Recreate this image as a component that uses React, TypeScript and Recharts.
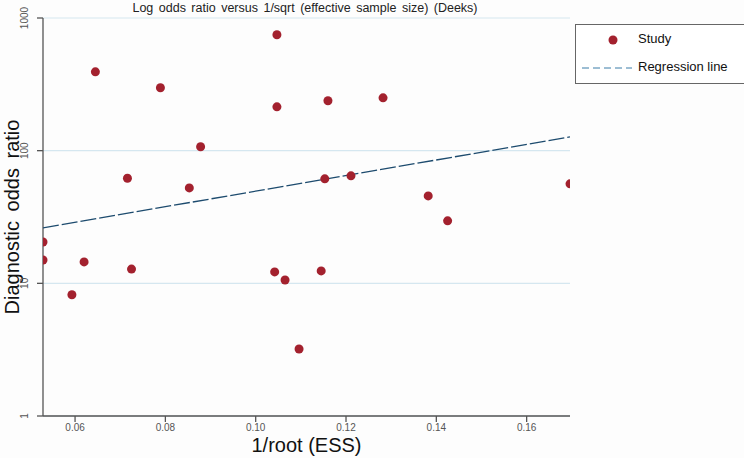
import { CartesianGrid, Scatter, ScatterChart, XAxis, YAxis, Label } from "recharts"

// 1/sqrt(ESS) per study
const studyX = [
  0.0529, 0.0529, 0.0593, 0.062, 0.0645, 0.0716, 0.0725, 0.0789, 0.0853, 0.0878, 0.1047, 0.1047,
  0.1042, 0.1065, 0.1096, 0.1145, 0.1153, 0.116, 0.1211, 0.1282, 0.1382, 0.1425, 0.1696,
]
// diagnostic odds ratio per study
const studyDor = [
  20.5, 15.0, 8.2, 14.5, 393, 62, 12.8, 298, 52.4, 107, 747, 214,
  12.2, 10.6, 3.2, 12.4, 61.3, 238, 64.6, 250, 45.6, 29.6, 56.2,
]
// fitted regression line end points
const regX = [0.0529, 0.1696]
const regDor = [26.2, 127]

const xTicks = [0.06, 0.08, 0.1, 0.12, 0.14, 0.16]
const yTicks = [1, 10, 100, 1000]

const POINT = "#a3212e"
const LINE = "#1d4b6e"
const AXIS = "#555"
const FONT = "Arial, Liberation Sans, sans-serif"

const studies = studyX.map((x, i) => ({ x, y: studyDor[i] }))
const regression = regX.map((x, i) => ({ x, y: regDor[i] }))

const YTick = ({ x, y, payload }: any) => (
  <text
    x={x - 7}
    y={y}
    transform={`rotate(-90 ${x - 7} ${y})`}
    textAnchor="middle"
    fontSize={10}
    fill={AXIS}
    fontFamily={FONT}
  >
    {payload.value}
  </text>
)

const YTitle = ({ viewBox }: any) => {
  const cy = viewBox.y + viewBox.height / 2
  return (
    <text
      x={19}
      y={cy}
      transform={`rotate(-90 19 ${cy})`}
      textAnchor="middle"
      fontSize={20}
      fill="#111"
      fontFamily={FONT}
      style={{ wordSpacing: 4 }}
    >
      Diagnostic odds ratio
    </text>
  )
}

const LegendBox = () => (
  <div
    style={{
      position: "absolute",
      left: 575,
      top: 24,
      border: "1px solid #666",
      width: 180,
      height: 58,
      background: "#fff",
      fontFamily: FONT,
      fontSize: 13,
      color: "#111",
    }}
  >
    <svg width={60} height={58} style={{ position: "absolute", left: 0, top: 0 }}>
      <circle cx={37} cy={15} r={4.5} fill={POINT} />
      <line x1={6} y1={43} x2={56} y2={43} stroke="#3b7ca8" strokeWidth={1} strokeDasharray="7 4" />
    </svg>
    <div style={{ position: "absolute", left: 62, top: 6 }}>Study</div>
    <div style={{ position: "absolute", left: 62, top: 34 }}>Regression line</div>
  </div>
)

export default function App() {
  return (
    <div style={{ position: "absolute", left: 0, top: 0, width: 744, height: 458, background: "#fdfdfd" }}>
      <div
        style={{
          position: "absolute",
          left: 0,
          width: 610,
          top: 1,
          textAlign: "center",
          fontFamily: FONT,
          fontSize: 12.5,
          color: "#222",
          wordSpacing: 2,
        }}
      >
        Log odds ratio versus 1/sqrt (effective sample size) (Deeks)
      </div>
      <ScatterChart width={744} height={458} margin={{ top: 18, right: 174, left: 0, bottom: 0 }}>
        <CartesianGrid vertical={false} stroke="#d5e7f0" strokeWidth={1.2} />
        <XAxis
          type="number"
          dataKey="x"
          domain={[0.0529, 0.1696]}
          allowDataOverflow
          ticks={xTicks}
          tickFormatter={(v: number) => v.toFixed(2)}
          height={42}
          stroke={AXIS}
          strokeWidth={1.3}
          tickSize={6}
          tick={{ fontSize: 10, fill: AXIS, fontFamily: FONT }}
        >
          <Label value="1/root (ESS)" position="insideBottom" offset={6} fontSize={20} fill="#111" fontFamily={FONT} />
        </XAxis>
        <YAxis
          type="number"
          dataKey="y"
          scale="log"
          domain={[1, 1000]}
          allowDataOverflow
          ticks={yTicks}
          width={43}
          stroke={AXIS}
          strokeWidth={1.3}
          tickSize={6}
          tick={<YTick />}
        >
          <Label content={<YTitle />} />
        </YAxis>
        <Scatter
          name="Regression line"
          data={regression}
          line={{ stroke: LINE, strokeWidth: 1.3, strokeDasharray: "16 3" }}
          shape={() => null}
          isAnimationActive={false}
        />
        <Scatter
          name="Study"
          data={studies}
          fill={POINT}
          shape={(p: any) => <circle cx={p.cx} cy={p.cy} r={4.5} fill={POINT} />}
          isAnimationActive={false}
        />
      </ScatterChart>
      <LegendBox />
    </div>
  )
}
